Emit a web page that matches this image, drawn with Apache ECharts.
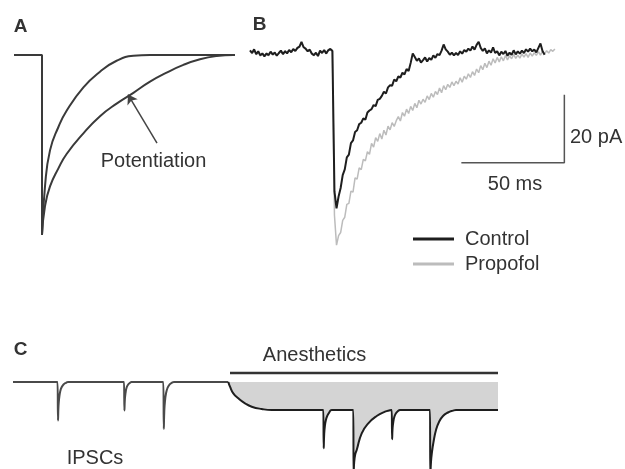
<!DOCTYPE html>
<html>
<head>
<meta charset="utf-8">
<script src="https://cdn.jsdelivr.net/npm/echarts@6/dist/echarts.min.js"></script>
<style>html,body{margin:0;padding:0;background:#fff;}#c{width:625px;height:469px;}</style>
</head>
<body>
<div id="c"></div>
<script>
// ---------- Panel A (normalized current vs time) ----------
const stepT = [-14, 0, 0];
const stepV = [0, 0, -1];
const fastT = [0, 1.5, 4, 8.2, 12.3, 20.7, 29, 37.3, 45.7, 54, 70, 96.5];
const fastV = [-1, -0.73, -0.53, -0.40, -0.31, -0.18, -0.093, -0.032, -0.004, 0, 0, 0];
const slowT = [0, 1.5, 4, 8.2, 12.3, 20.7, 29, 37.3, 45.7, 54, 62.3, 70.7, 79, 87.3, 95.7, 96.5];
const slowV = [-1, -0.84, -0.73, -0.63, -0.55, -0.435, -0.34, -0.27, -0.21, -0.148, -0.098, -0.055, -0.024, -0.006, 0, 0];
const arrowFrom = [57.5, -0.49];
const arrowTo = [43, -0.22];

// ---------- Panel B (pA vs ms, 1 ms sampling) ----------
const sampleMs = 1;
const controlPA = [0.5,-0.3,0.8,-0.6,0.2,-1.0,-0.4,-1.3,-0.5,-0.9,0.1,-0.7,-0.2,-1.1,-0.3,0.4,-0.6,0.2,-0.4,0.6,
 -0.1,0.9,0.3,1.2,1.6,3.0,1.4,1.0,0.2,0.7,-0.5,-0.9,-0.2,-1.2,0.4,-0.3,0.6,-0.4,0.5,0.9,
 0.3,-41,-46,-42.5,-40.0,-36.2,-34.5,-31.0,-30.2,-26.8,-26.0,-23.5,-23.0,-21.2,-20.8,-19.5,-19.9,-17.8,-17.2,-16.8,
 -15.6,-15.9,-14.1,-13.8,-12.9,-11.7,-12.2,-10.4,-9.8,-9.9,-8.1,-8.6,-7.2,-7.5,-6.1,-6.6,-5.0,-5.6,-3.2,-0.4,
 -1.5,-2.6,-1.9,-3.1,-2.4,-1.6,-2.8,-1.8,-2.3,-1.0,-1.7,-0.6,-0.9,0.4,2.2,0.8,0.1,-0.8,-0.2,-1.0,
 -0.3,-0.9,0.2,-0.5,0.6,0.1,1.0,0.4,1.6,0.7,2.1,3.0,1.2,0.3,1.1,-0.4,0.5,-0.2,1.4,-0.3,
 0.2,-1.0,0.1,-0.6,0.3,-1.1,-0.2,-0.8,0.5,-0.7,0.2,-0.5,0.4,-0.3,0.8,0.1,1.0,0.2,0.7,-0.1,
 1.2,2.5,0.3,-0.8];
const propofolPA = [0.3,-0.5,0.6,-0.8,0.0,-1.2,-0.6,-1.0,-0.3,-1.1,-0.1,-0.9,0.0,-0.9,-0.5,0.2,-0.8,0.4,-0.2,0.4,
 0.1,0.7,0.5,1.0,1.4,2.6,1.7,0.8,0.4,0.5,-0.3,-1.1,-0.4,-1.0,0.2,-0.1,0.4,-0.6,0.7,0.7,
 0.5,-48,-56.8,-54.0,-53.1,-49.5,-48.6,-44.8,-44.5,-40.9,-41.2,-37.0,-37.4,-34.1,-34.6,-31.6,-32.0,-29.3,-30.1,-26.9,
 -28.0,-25.2,-26.3,-24.0,-25.6,-23.0,-24.4,-21.8,-22.9,-20.8,-21.9,-20.2,-19.0,-20.3,-17.8,-18.9,-16.8,-18.1,-16.0,-17.2,
 -15.1,-16.4,-14.2,-15.3,-13.9,-14.8,-12.9,-14.0,-12.2,-13.3,-11.6,-12.5,-10.6,-12.0,-9.9,-11.1,-9.5,-10.4,-8.8,-9.9,
 -8.6,-9.4,-7.6,-8.9,-7.1,-8.0,-6.4,-7.5,-5.8,-6.9,-5.0,-6.1,-4.0,-5.2,-3.3,-4.6,-2.7,-3.9,-2.0,-3.2,
 -1.6,-2.9,-1.4,-2.6,-1.0,-2.3,-1.1,-2.0,-0.7,-1.9,-0.9,-1.8,-0.6,-1.5,-0.5,-1.6,-0.3,-1.2,-0.2,-1.0,
 0.1,-0.9,0.3,-0.6,0.4,-0.3,0.7,0.2,0.9];
const scaleBarMs = [102.6, 152.6];   // 50 ms
const scaleBarPA = [-32.6, -12.6];   // 20 pA

// ---------- Panel C (schematic trace) ----------
const preT = [0, 44.5,45,45.5,46.2,47.2,48.5,50.5,53,55, 111,111.4,111.9,112.6,113.5,115,117,118.5,
 150.3,150.8,151.3,152,153,154.5,156.5,159,161, 215.3];
const preV = [0, 0,-38.5,-24,-16,-9.5,-5.5,-2.5,-0.8,0, 0,-28.5,-17,-10.5,-6,-2.8,-0.8,0,
 0,-47,-29,-19,-11.5,-6,-2.6,-0.7,0, 0];
const anesT = [215.3,217,220.3,225.3,232,238.7,248.7,258.7,
 310.3,310.7,311.2,311.9,312.9,314.2,316,318.7,
 340.3,340.6,341.2,342.3,343.7,348.7,355.3,363.7,372,377,378.7,
 379.1,379.6,380.3,381.3,382.8,384.8,387,
 417,417.3,418,419,420.5,423,426,430,435,440,443, 485];
const anesV = [0,-4.7,-11.3,-16.3,-21.3,-24.7,-27,-28,
 -28,-66.3,-52,-44,-38,-34,-30.8,-28,
 -28,-95,-80,-72,-68,-51.3,-41.3,-34,-29.7,-28.3,-28,
 -57.3,-46,-40,-35,-31.5,-29.2,-28,
 -28,-95,-80,-70,-60,-48,-40,-34,-30.5,-28.6,-28, -28];
const anesBarT = [217, 485];
const anesBarV = 9;

const zip = (a, b) => a.map((x, i) => [x, b[i]]);
const seq = (vals, step) => vals.map((v, i) => [i * step, v]);

const FONT = '"Liberation Sans", Arial, Helvetica, sans-serif';
const INK = '#3a3a3a';

function txt(x, y, text, opts) {
  opts = opts || {};
  return {
    type: 'text', x: x, y: y, silent: true,
    style: {
      text: text, fill: opts.fill || '#333',
      fontSize: opts.size || 20, fontFamily: FONT,
      fontWeight: opts.bold ? 'bold' : 'normal',
      align: opts.align || 'center', verticalAlign: 'middle'
    }
  };
}

const chart = echarts.init(document.getElementById('c'), null, { renderer: 'canvas' });
chart.setOption({
  animation: false,
  backgroundColor: '#fff',
  grid: [
    { left: 14, top: 46, width: 221, height: 198 },
    { left: 250, top: 18, width: 329.6, height: 238 },
    { left: 13, top: 372, width: 485, height: 97 }
  ],
  xAxis: [
    { type: 'value', gridIndex: 0, min: -14, max: 96.5, show: false },
    { type: 'value', gridIndex: 1, min: 0, max: 160, show: false },
    { type: 'value', gridIndex: 2, min: 0, max: 485, show: false }
  ],
  yAxis: [
    { type: 'value', gridIndex: 0, min: -1.05, max: 0.05, show: false },
    { type: 'value', gridIndex: 1, min: -60, max: 10, show: false },
    { type: 'value', gridIndex: 2, min: -87, max: 10, show: false }
  ],
  legend: {
    data: ['Control', 'Propofol'],
    orient: 'vertical', left: 413, top: 229, padding: 0,
    icon: 'rect', itemWidth: 41, itemHeight: 3, itemGap: 5,
    textStyle: { fontSize: 20, fontFamily: FONT, color: '#333', padding: [0, 0, 0, 6] },
    selectedMode: false
  },
  series: [
    { type: 'line', xAxisIndex: 0, yAxisIndex: 0, data: zip(stepT, stepV), symbol: 'none', clip: false,
      lineStyle: { color: INK, width: 2 } },
    { type: 'line', xAxisIndex: 0, yAxisIndex: 0, data: zip(fastT, fastV), symbol: 'none', clip: false,
      smooth: 0.5, lineStyle: { color: INK, width: 2 } },
    { type: 'line', xAxisIndex: 0, yAxisIndex: 0, data: zip(slowT, slowV), symbol: 'none', clip: false,
      smooth: 0.5, lineStyle: { color: INK, width: 2 } },
    { type: 'lines', coordinateSystem: 'cartesian2d', xAxisIndex: 0, yAxisIndex: 0,
      symbol: ['none', 'arrow'], symbolSize: 9,
      lineStyle: { color: '#444', width: 1.5, opacity: 1 },
      data: [{ coords: [arrowFrom, arrowTo] }] },
    { name: 'Propofol', type: 'line', xAxisIndex: 1, yAxisIndex: 1, data: seq(propofolPA, sampleMs),
      symbol: 'none', clip: false, color: '#bcbcbc', itemStyle: { color: '#bcbcbc' },
      lineStyle: { color: '#bcbcbc', width: 1.5 } },
    { name: 'Control', type: 'line', xAxisIndex: 1, yAxisIndex: 1, data: seq(controlPA, sampleMs),
      symbol: 'none', clip: false, color: '#1e1e1e', itemStyle: { color: '#1e1e1e' },
      lineStyle: { color: '#1e1e1e', width: 2 } },
    { type: 'line', xAxisIndex: 1, yAxisIndex: 1, symbol: 'none', clip: false,
      data: [[scaleBarMs[1], scaleBarPA[1]], [scaleBarMs[1], scaleBarPA[0]], [scaleBarMs[0], scaleBarPA[0]]],
      lineStyle: { color: '#555', width: 1.5 } },
    { type: 'line', xAxisIndex: 2, yAxisIndex: 2, data: zip(preT, preV), symbol: 'none',
      smooth: 0.5, lineStyle: { color: '#4a4a4a', width: 2 } },
    { type: 'line', xAxisIndex: 2, yAxisIndex: 2, data: zip(anesT, anesV), symbol: 'none',
      smooth: 0.5, lineStyle: { color: '#1e1e1e', width: 2 },
      areaStyle: { color: '#d4d4d4', opacity: 1, origin: 0 } },
    { type: 'line', xAxisIndex: 2, yAxisIndex: 2, symbol: 'none', clip: false,
      data: [[anesBarT[0], anesBarV], [anesBarT[1], anesBarV]],
      lineStyle: { color: '#333', width: 2.5 } }
  ],
  graphic: [
    txt(20.5, 27, 'A', { bold: true, size: 19 }),
    txt(259.5, 25, 'B', { bold: true, size: 19 }),
    txt(20.5, 350, 'C', { bold: true, size: 19 }),
    txt(153.5, 161, 'Potentiation'),
    txt(570, 137, '20 pA', { align: 'left' }),
    txt(515, 184, '50 ms'),
    txt(314.5, 355, 'Anesthetics'),
    txt(95, 458, 'IPSCs')
  ]
});
</script>
</body>
</html>
